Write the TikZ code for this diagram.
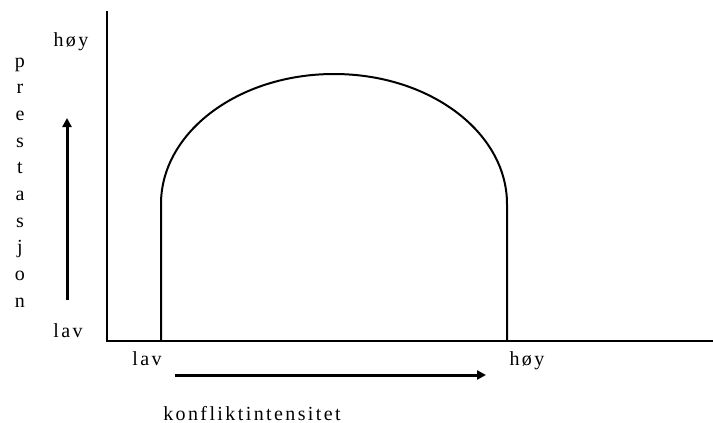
\documentclass[tikz,border=0pt]{standalone}
\usepackage{fontspec}
\setmainfont{Liberation Serif}
\usetikzlibrary{arrows.meta}
\newfontfamily\lblfont[LetterSpace=12]{Liberation Serif}
\begin{document}
\begin{tikzpicture}[x=1pt,y=-1pt,
  lbl/.style={font=\lblfont\fontsize{20}{22}\selectfont, inner sep=0pt, anchor=base},
  axisline/.style={line width=2.4pt},
  curveline/.style={line width=2pt},
  dirarrow/.style={line width=3pt, -{Triangle[length=9pt,width=9pt]}}]
\useasboundingbox (0,0) rectangle (713,423);
% axes
\coordinate (ytop) at (107,11);
\coordinate (origin) at (107,341);
\coordinate (xend) at (713,341);
\draw[axisline] (ytop) -- (origin) -- (xend);
% curve
\coordinate (cl) at (161,341);
\coordinate (cr) at (507,341);
\draw[curveline] (cl) -- (161,204) arc[start angle=180, end angle=360, x radius=173, y radius=130] -- (cr);
% arrows
\coordinate (va0) at (67,300);
\coordinate (va1) at (67,118);
\draw[dirarrow] (va0) -- (va1);
\coordinate (ha0) at (175,375);
\coordinate (ha1) at (486,375);
\draw[dirarrow] (ha0) -- (ha1);
% labels
\node[lbl] (yhigh) at (71,46) {høy};
\node[lbl] (ylow) at (68,337) {lav};
\node[lbl] (xlow) at (147,365) {lav};
\node[lbl] (xhigh) at (527,365) {høy};
\node[lbl] (xtitle) at (252,420) {konfliktintensitet};
\foreach \ch [count=\i] in {p,r,e,s,t,a,s,j,o,n}
  \node[lbl] (ylet\i) at (20,{67+(\i-1)*26.7}) {\ch};
\end{tikzpicture}
\end{document}
